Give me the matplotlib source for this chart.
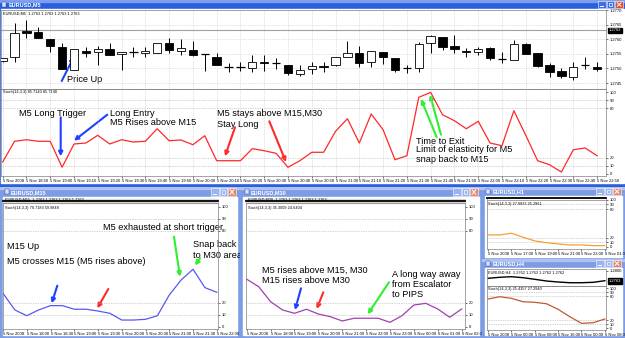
import matplotlib.pyplot as plt
from matplotlib.patches import Rectangle

plt.rcParams['font.family'] = ['Liberation Sans', 'DejaVu Sans']

W, H = 625, 338

# ---- EURUSD M5 candles (51 bars) ----
m5_open = [1.27526, 1.27539, 1.27628, 1.27625, 1.27601, 1.27573, 1.27495, 1.27560, 1.27556, 1.27567,
           1.27550, 1.27556, 1.27553, 1.27553, 1.27587, 1.27560, 1.27563, 1.27550, 1.27539, 1.27505,
           1.27505, 1.27502, 1.27522, 1.27519, 1.27512, 1.27481, 1.27498, 1.27508, 1.27512, 1.27539,
           1.27553, 1.27522, 1.27556, 1.27536, 1.27502, 1.27502, 1.27587, 1.27608, 1.27577, 1.27560,
           1.27556, 1.27570, 1.27532, 1.27529, 1.27584, 1.27553, 1.27512, 1.27491, 1.27471, 1.27512,
           1.27505]
m5_high = [1.27536, 1.27656, 1.27666, 1.27642, 1.27601, 1.27587, 1.27567, 1.27573, 1.27577, 1.27587,
           1.27556, 1.27573, 1.27573, 1.27587, 1.27604, 1.27601, 1.27594, 1.27550, 1.27553, 1.27519,
           1.27522, 1.27546, 1.27546, 1.27536, 1.27512, 1.27512, 1.27522, 1.27522, 1.27539, 1.27594,
           1.27577, 1.27560, 1.27556, 1.27536, 1.27512, 1.27591, 1.27614, 1.27608, 1.27614, 1.27570,
           1.27573, 1.27573, 1.27556, 1.27597, 1.27587, 1.27553, 1.27519, 1.27502, 1.27522, 1.27539,
           1.27522]
m5_low = [1.27522, 1.27522, 1.27604, 1.27604, 1.27556, 1.27498, 1.27495, 1.27539, 1.27512, 1.27546,
          1.27495, 1.27539, 1.27539, 1.27553, 1.27553, 1.27546, 1.27543, 1.27491, 1.27512, 1.27488,
          1.27491, 1.27488, 1.27491, 1.27498, 1.27478, 1.27474, 1.27481, 1.27488, 1.27508, 1.27539,
          1.27505, 1.27505, 1.27515, 1.27488, 1.27485, 1.27488, 1.27553, 1.27563, 1.27553, 1.27539,
          1.27546, 1.27529, 1.27519, 1.27529, 1.27550, 1.27505, 1.27471, 1.27467, 1.27461, 1.27498,
          1.27491]
m5_close = [1.27536, 1.27621, 1.27621, 1.27604, 1.27577, 1.27498, 1.27567, 1.27553, 1.27567, 1.27546,
            1.27556, 1.27556, 1.27560, 1.27587, 1.27563, 1.27570, 1.27546, 1.27550, 1.27512, 1.27505,
            1.27505, 1.27522, 1.27519, 1.27519, 1.27485, 1.27495, 1.27508, 1.27505, 1.27539, 1.27553,
            1.27519, 1.27560, 1.27539, 1.27495, 1.27502, 1.27584, 1.27611, 1.27573, 1.27567, 1.27556,
            1.27567, 1.27536, 1.27532, 1.27584, 1.27550, 1.27508, 1.27488, 1.27474, 1.27505, 1.27512,
            1.27498]
m5_stoch = [14.6, 39.9, 41.8, 39.9, 39.9, 8.2, 36.6, 37.8, 47.2, 36.6,
            41.8, 39.0, 39.9, 55.2, 40.6, 41.5, 35.7, 46.7, 16.2, 16.2,
            16.2, 30.9, 28.4, 25.2, 8.2, 16.2, 26.5, 26.5, 52.1, 67.4,
            37.8, 73.2, 54.0, 17.4, 22.3, 93.5, 99.6, 72.3, 65.0, 55.2,
            64.3, 37.8, 34.5, 77.2, 47.2, 16.2, 11.3, 2.4, 29.6, 31.7,
            22.3]
m5_times = ['5 Nov 2008', '5 Nov 18:50', '5 Nov 19:00', '5 Nov 19:10', '5 Nov 19:20', '5 Nov 19:30',
            '5 Nov 19:40', '5 Nov 19:50', '5 Nov 20:00', '5 Nov 20:10', '5 Nov 20:20', '5 Nov 20:30',
            '5 Nov 20:40', '5 Nov 20:50', '5 Nov 21:00', '5 Nov 21:10', '5 Nov 21:20', '5 Nov 21:30',
            '5 Nov 21:40', '5 Nov 21:50', '5 Nov 22:00', '5 Nov 22:10', '5 Nov 22:20', '5 Nov 22:30',
            '5 Nov 22:40', '5 Nov 22:50']
price_ticks = [1.2770, 1.2765, 1.2760, 1.2755, 1.2750, 1.2745]
m5_last = 1.2763

# ---- other timeframes (stochastic main line) ----
m15_stoch = [28.1, 14.2, 9.4, 14.2, 17.8, 17.8, 14.8, 14.8, 13.3, 11.4,
             5.8, 5.8, 6.4, 9.4, 26.7, 39.2, 48.1, 32.8, 28.9]
m15_times = ['5 Nov 2008', '5 Nov 18:00', '5 Nov 18:30', '5 Nov 19:00', '5 Nov 19:30',
             '5 Nov 20:00', '5 Nov 20:30', '5 Nov 21:00', '5 Nov 21:30', '5 Nov 22:00']
m30_stoch = [39.8, 33.6, 21.1, 14.2, 11.4, 14.8, 10.8, 8.6, 5.0, 7.3,
             7.3, 7.3, 3.9, 9.4, 18.3, 19.7, 15.0, 8.1, 15.0]
m30_times = ['5 Nov 2008', '5 Nov 18:00', '5 Nov 19:00', '5 Nov 20:00', '5 Nov 21:00',
             '5 Nov 22:00', '5 Nov 23:00', '6 Nov 00:00', '6 Nov 01:00', '6 Nov 02:00']
h1_stoch = [25.5, 25.5, 29.1, 20.6, 12.8, 9.1, 6.4, 4.3, 4.3, 2.8, 2.8]
h1_times = ['5 Nov 2008', '5 Nov 17:00', '5 Nov 19:00', '5 Nov 21:00', '5 Nov 23:00', '6 Nov 01:00']
h4_close = [1.27722, 1.27760, 1.27783, 1.27745, 1.27684, 1.27619, 1.27581, 1.27554, 1.27554,
            1.27569, 1.27630]
h4_stoch = [72.7, 78.4, 74.4, 66.0, 64.5, 61.0, 47.1, 28.8, 12.4, 13.9, 23.1]
h4_times = ['5 Nov 2008', '5 Nov 00:00', '5 Nov 08:00', '5 Nov 16:00', '6 Nov 00:00', '6 Nov 08:00']
stoch_ticks = [100, 90, 80, 20, 10, 0]
stoch_levels = [90, 80, 20, 10]

fig = plt.figure(figsize=(6.25, 3.38), dpi=100)
fig.patch.set_facecolor('#7d9ce6')


def px(x0, y0, x1, y1):
    # pixel box (top-left origin) -> figure fraction rect
    return [x0 / W, 1 - y1 / H, (x1 - x0) / W, (y1 - y0) / H]


def window(x0, y0, x1, y1, title, active, border, tb, bottom):
    ax = fig.add_axes(px(x0, y0, x1, y1), zorder=0)
    ax.set_xlim(x0, x1)
    ax.set_ylim(y1, y0)
    ax.axis('off')
    bar = '#2a5fe2' if active else '#7d9ce6'
    ax.add_patch(Rectangle((x0, y0), x1 - x0, y1 - y0, color=bar))
    ax.add_patch(Rectangle((x0, y0), x1 - x0, 1.5, color='white', alpha=0.3))
    ax.add_patch(Rectangle((x0 + border, y0 + tb), x1 - x0 - 2 * border, y1 - y0 - tb - bottom,
                           color='white'))
    ax.add_patch(Rectangle((x0 + border + 1.5, y0 + 2), 4, 4.5, fc='#d8e4fc', ec='#2040a0', lw=0.3))
    ax.text(x0 + border + 8, y0 + tb / 2 + 0.3, title, color='white', fontsize=4, weight='bold',
            va='center')
    btn = '#3f6fe8' if active else '#9bb3ee'
    close = '#e0512f' if active else '#e58a72'
    for k, c in enumerate([btn, btn, close]):
        bx = x1 - border - 26 + k * 8.6
        by = y0 + 1
        bh = tb - 2
        ax.add_patch(Rectangle((bx, by), 7.6, bh, fc=c, ec='white', lw=0.4))
        if k == 0:
            ax.plot([bx + 2, bx + 4.5], [by + bh - 2, by + bh - 2], color='white', lw=0.7)
        elif k == 1:
            ax.add_patch(Rectangle((bx + 2, by + 2), 3.6, bh - 4, fc='none', ec='white', lw=0.5))
        else:
            ax.plot([bx + 2, bx + 5.6], [by + 1.8, by + bh - 1.8], color='white', lw=0.7)
            ax.plot([bx + 2, bx + 5.6], [by + bh - 1.8, by + 1.8], color='white', lw=0.7)
    return ax


def chart(x0, y0, x1, y1, xlim, ylim):
    ax = fig.add_axes(px(x0, y0, x1, y1), zorder=1)
    ax.patch.set_alpha(0)
    ax.set_xlim(*xlim)
    ax.set_ylim(*ylim)
    for s in ax.spines.values():
        s.set_color('#808080')
        s.set_linewidth(0.5)
    ax.yaxis.tick_right()
    ax.tick_params(length=1.5, width=0.4, labelsize=3, pad=1)
    return ax


def stoch_panel(ax, values, color, times, win=None):
    for lv in stoch_levels:
        ax.axhline(lv, color='#a8a8a8', ls=(0, (1, 1.5)), lw=0.5)
    ax.plot(range(len(values)), values, color=color, lw=0.9)
    ax.set_yticks(stoch_ticks)
    ax.set_yticklabels([str(t) for t in stoch_ticks])
    ax.set_xticks(range(0, len(values), 2))
    labels = ax.set_xticklabels(times, ha='left')
    if win is not None:
        # time labels are cut off at the window edge, as in the terminal
        for t in labels:
            t.set_clip_path(win.patch)


def arrow(ax, tail, head, color):
    ax.annotate('', xy=head, xytext=tail,
                arrowprops=dict(arrowstyle='-|>', color=color, lw=1.5, mutation_scale=6,
                                shrinkA=0, shrinkB=0))


def note(ax, x, y, s):
    ax.text(x, y, s, fontsize=6.6, va='center', ha='left', clip_on=True)


BLUE, RED, GREEN = '#2040ff', '#ff2a2a', '#2ef02e'
tiny = dict(fontsize=2.8, va='center', ha='left')

# ================= top window: EURUSD,M5 =================
top = window(0, 0, 625, 187, 'EURUSD,M5', True, 0.8, 9, 4)

ax = chart(1, 10, 606, 88.5, (-0.14, 50.75), (1.274315, 1.2770))
ax.set_xticks(range(0, 51, 2))
ax.tick_params(axis='x', labelbottom=False, length=0)
ax.set_yticks(price_ticks)
ax.set_yticklabels([f'{p:.4f}' for p in price_ticks], ha='left')
ax.grid(color='#c8c8c8', ls=(0, (1, 1.5)), lw=0.5)
ax.axhline(m5_last, color='#a0a0a0', lw=0.8)
ax.text(1.004, m5_last, f'{m5_last:.4f}', transform=ax.get_yaxis_transform(), color='white',
        fontsize=3, va='center', bbox=dict(fc='black', ec='black', pad=0.6))
for i in range(len(m5_open)):
    o, hi, lo, c = m5_open[i], m5_high[i], m5_low[i], m5_close[i]
    ax.vlines(i, lo, hi, color='black', lw=0.7, zorder=2)
    if o == c:
        ax.hlines(o, i - 0.35, i + 0.35, color='black', lw=0.9, zorder=3)
    else:
        ax.add_patch(Rectangle((i - 0.35, min(o, c)), 0.7, abs(c - o),
                               fc='white' if c > o else 'black', ec='black', lw=0.6, zorder=3))
ax.text(0.004, 0.955, 'EURUSD,M5  1.2763 1.2763 1.2763 1.2763', transform=ax.transAxes, **tiny)

ax = chart(1, 88.5, 606, 176, (-0.14, 50.75), (-2.44, 104.3))
ax.set_xticks(range(0, 51, 2))
ax.grid(axis='x', color='#c8c8c8', ls=(0, (1, 1.5)), lw=0.5)
stoch_panel(ax, m5_stoch, '#ff2828', m5_times)
ax.text(0.004, 0.965, 'Stoch(14,3,3) 85.7140 85.7140', transform=ax.transAxes, **tiny)

note(top, 66.7, 79.7, 'Price Up')
note(top, 19, 114, 'M5 Long Trigger')
note(top, 110, 113, 'Long Entry')
note(top, 110, 122.5, 'M5 Rises above M15')
note(top, 217, 114, 'M5 stays above M15,M30')
note(top, 217, 124.7, 'Stay Long')
note(top, 416, 141, 'Time to Exit')
note(top, 416, 150, 'Limit of elasticity for M5')
note(top, 416, 160, 'snap back to M15')
arrow(top, (61.7, 81), (74, 56.7), BLUE)
arrow(top, (60.7, 117.3), (60.7, 156.3), BLUE)
arrow(top, (107.3, 114.7), (74, 140.7), BLUE)
arrow(top, (235, 127.3), (225, 156.3), RED)
arrow(top, (269.3, 121.3), (286, 162), RED)
arrow(top, (441, 134.7), (430, 94.7), GREEN)
arrow(top, (436.7, 137.3), (421, 99), GREEN)

# ================= EURUSD,M15 =================
w15 = window(0, 187, 240, 338, 'EURUSD,M15', False, 3, 10, 3)
w15.add_patch(Rectangle((3, 198.5), 215, 4, color='#d8d8d8'))
w15.plot([3, 218], [200.8, 200.8], color='black', lw=1.3)
w15.text(5, 199.2, 'EURUSD,M15  1.2763 1.2763 1.2763 1.2763', **tiny)
ax = chart(3, 203, 218, 329, (0.03, 18.1), (-1.67, 103.3))
stoch_panel(ax, m15_stoch, '#5858f2', m15_times, w15)
ax.text(0.01, 0.96, 'Stoch(14,3,3) 79.7183 59.9848', transform=ax.transAxes, **tiny)

note(w15, 103, 227.7, 'M5 exhausted at short trigger')
note(w15, 7.3, 246.7, 'M15 Up')
note(w15, 7.3, 262, 'M5 crosses M15 (M5 rises above)')
note(w15, 193.3, 244.3, 'Snap back')
note(w15, 193.3, 255, 'to M30 area')
arrow(w15, (57.3, 285.7), (51.7, 303.3), BLUE)
arrow(w15, (108.3, 289), (97.3, 308.3), RED)
arrow(w15, (174, 236.7), (180, 276.7), GREEN)
arrow(w15, (200, 258.3), (195, 265.5), GREEN)

# ================= EURUSD,M30 =================
w30 = window(240, 187, 482, 338, 'EURUSD,M30', False, 3, 10, 3)
w30.add_patch(Rectangle((246, 198.5), 219, 4, color='#d8d8d8'))
w30.plot([246, 465], [200.8, 200.8], color='black', lw=1.3)
w30.text(248, 199.2, 'EURUSD,M30  1.2763 1.2763 1.2763 1.2763', **tiny)
ax = chart(246, 203, 465, 329, (-0.06, 18.28), (-1.67, 103.3))
stoch_panel(ax, m30_stoch, '#a040b0', m30_times, w30)
ax.text(0.01, 0.96, 'Stoch(14,3,3) 35.3009 24.6404', transform=ax.transAxes, **tiny)

note(w30, 261.7, 270, 'M5 rises above M15, M30')
note(w30, 261.7, 280.5, 'M15 rises above M30')
note(w30, 391.7, 274.3, 'A long way away')
note(w30, 391.7, 284.3, 'from Escalator')
note(w30, 391.7, 294.3, 'to PIPS')
arrow(w30, (301, 288.3), (295, 310), BLUE)
arrow(w30, (323.3, 292.3), (316.7, 309), RED)
arrow(w30, (389, 282.3), (367.7, 314.3), GREEN)

# ================= EURUSD,H1 =================
wh1 = window(482, 187, 625, 259, 'EURUSD,H1', False, 3, 9, 2.5)
wh1.plot([487, 606], [198.3, 198.3], color='black', lw=1.3)
ax = chart(487, 199.5, 606, 249, (-0.09, 10.1), (-4.3, 100.5))
stoch_panel(ax, h1_stoch, '#f5a030', h1_times, wh1)
ax.text(0.01, 0.9, 'Stoch(14,3,3) 27.0833 25.2961', transform=ax.transAxes, **tiny)

# ================= EURUSD,H4 =================
wh4 = window(482, 259, 625, 338, 'EURUSD,H4', False, 3, 9, 3)
ax = chart(487, 269, 606, 286, (-0.09, 10.1), (1.27429, 1.28076))
ax.plot(range(len(h4_close)), h4_close, color='black', lw=1.0)
ax.set_xticks([])
ax.set_yticks([1.2800])
ax.set_yticklabels(['1.2800'], ha='left')
ax.text(1.02, h4_close[-1], f'{h4_close[-1]:.4f}', transform=ax.get_yaxis_transform(),
        color='white', fontsize=3, va='center', bbox=dict(fc='black', ec='black', pad=0.6))
ax.text(0.01, 0.82, 'EURUSD,H4  1.2762 1.2763 1.2762 1.2762', transform=ax.transAxes, **tiny)
ax = chart(487, 286, 606, 330, (-0.09, 10.1), (-4.2, 105))
stoch_panel(ax, h4_stoch, '#c05a30', h4_times, wh4)
ax.text(0.01, 0.93, 'Stoch(14,3,3) 25.4357 27.2940', transform=ax.transAxes, **tiny)

fig.savefig('out.png', dpi=100)
